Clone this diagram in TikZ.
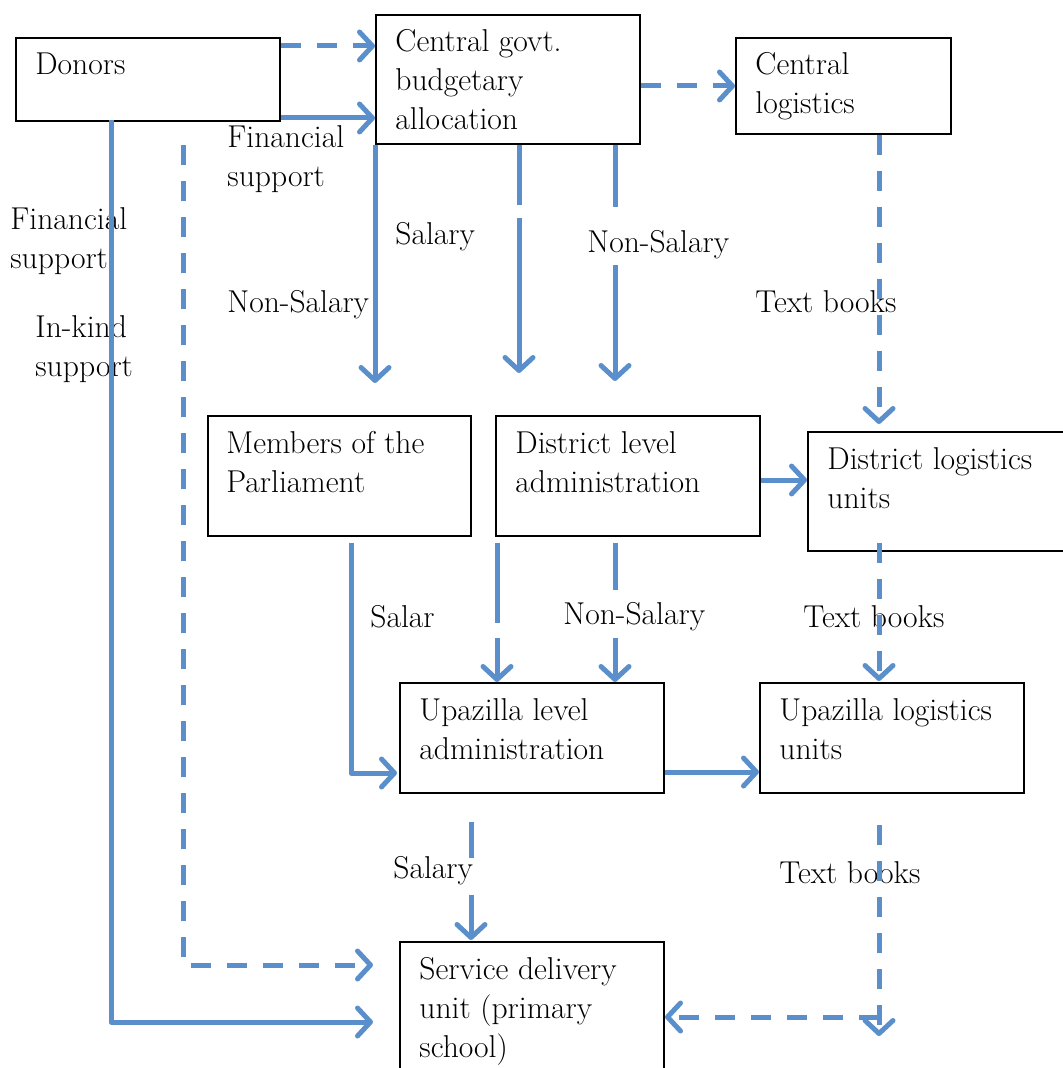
\documentclass[tikz,border=0pt]{standalone}
\usetikzlibrary{arrows.meta}
\definecolor{flow}{RGB}{91,143,203}
\begin{document}
\begin{tikzpicture}[x=0.5pt,y=-0.5pt,
  box/.style={draw=black, line width=1pt, inner sep=0pt, anchor=north west},
  txt/.style={anchor=base west, align=left, inner sep=0pt, font=\fontsize{15.8pt}{19.5pt}\selectfont},
  sflow/.style={draw=flow, line width=2.5pt, line join=round, -{Straight Barb[length=6.5pt,width=14pt,round]}},
  pflow/.style={draw=flow, line width=2.5pt},
  dflow/.style={sflow, dash pattern=on 10pt off 8pt}]
\useasboundingbox (0,0) rectangle (1062,1068);
% boxes
\node[box, minimum width=132pt, minimum height=41.5pt] (donors) at (15,37) {};
\node[box, minimum width=132pt, minimum height=64.5pt] (central) at (375,14) {};
\node[box, minimum width=107.5pt, minimum height=48pt] (clog) at (735,37) {};
\node[box, minimum width=131.5pt, minimum height=60pt] (mp) at (207,415) {};
\node[box, minimum width=132pt, minimum height=60pt] (dadm) at (495,415) {};
\node[box, minimum width=130pt, minimum height=59.5pt] (dlog) at (807,431) {};
\node[box, minimum width=132pt, minimum height=55pt] (uadm) at (399,682) {};
\node[box, minimum width=132pt, minimum height=55pt] (ulog) at (759,682) {};
\node[box, minimum width=132pt, minimum height=72pt] (sdu) at (399,941) {};
% box texts (anchored at the baseline of their last line)
\node[txt] (tdonors) at (35,75) {Donors};
\node[txt] (tcentral) at (395,130) {Central govt.\\budgetary\\allocation};
\node[txt] (tclog) at (755,114) {Central\\logistics};
\node[txt] (tmp) at (226,492) {Members of the\\Parliament};
\node[txt] (tdadm) at (515,492) {District level\\administration};
\node[txt] (tdlog) at (827,508) {District logistics\\units};
\node[txt] (tuadm) at (419,759) {Upazilla level\\administration};
\node[txt] (tulog) at (779,759) {Upazilla logistics\\units};
\node[txt] (tsdu) at (419,1057) {Service delivery\\unit (primary\\school)};
% labels
\node[txt] (lfin1) at (227,187) {Financial\\support};
\node[txt] (lfin2) at (10,269) {Financial\\support};
\node[txt] (link) at (35,377) {In-kind\\support};
\node[txt] (lsal1) at (395,245) {Salary};
\node[txt] (lnon1) at (227,313) {Non-Salary};
\node[txt] (lnon2) at (587,253) {Non-Salary};
\node[txt] (ltb1) at (755,313) {Text books};
\node[txt] (lsal2) at (370,627) {Salar};
\node[txt] (lnon3) at (563,624) {Non-Salary};
\node[txt] (ltb2) at (803,627) {Text books};
\node[txt] (lsal3) at (393,878) {Salary};
\node[txt] (ltb3) at (779,883) {Text books};
% helper coordinates
\coordinate (sdin) at ([xshift=-13pt]sdu.west);
\coordinate (lcorner) at (183,965);
\coordinate (lstart) at (183,145);
% connectors
\draw[dflow] (donors.east |- 0,46) -- (central.west |- 0,46);
\draw[sflow] (donors.east |- 0,118) -- (central.west |- 0,118);
\draw[sflow] (111,120) -- (111,1022) -- (sdin |- 0,1022);
\draw[dflow] (lstart) -- (lcorner) -- (sdin |- lcorner);
\draw[sflow] (central.south west |- 0,145) -- (central.south west |- 0,383);
\draw[pflow] (519,145) -- (519,205);
\draw[sflow] (519,218) -- (519,373);
\draw[pflow] (615,145) -- (615,207);
\draw[sflow] (615,265) -- (615,381);
\draw[dflow] (central.east |- 0,86) -- (clog.west |- 0,86);
\draw[dflow] (879,135) -- (879,424);
\draw[sflow] (dadm.east |- 0,480) -- (dlog.west |- 0,480);
\draw[sflow] (351,543) -- (351,773) -- ([xshift=-1pt]uadm.west |- 0,773);
\draw[pflow] (497,543) -- (497,623);
\draw[sflow] (497,638) -- (497,682);
\draw[pflow] (615,543) -- (615,590);
\draw[sflow] (615,638) -- (615,682);
\draw[dflow] (879,543) -- (879,681);
\draw[sflow] (uadm.east |- 0,772) -- (ulog.west |- 0,772);
\draw[pflow] (471,822) -- (471,858);
\draw[sflow] (471,895) -- (471,940);
\draw[dflow] (879,825) -- (879,1036);
\draw[dflow] (879,1017) -- (sdu.east |- 0,1017);
\end{tikzpicture}
\end{document}
